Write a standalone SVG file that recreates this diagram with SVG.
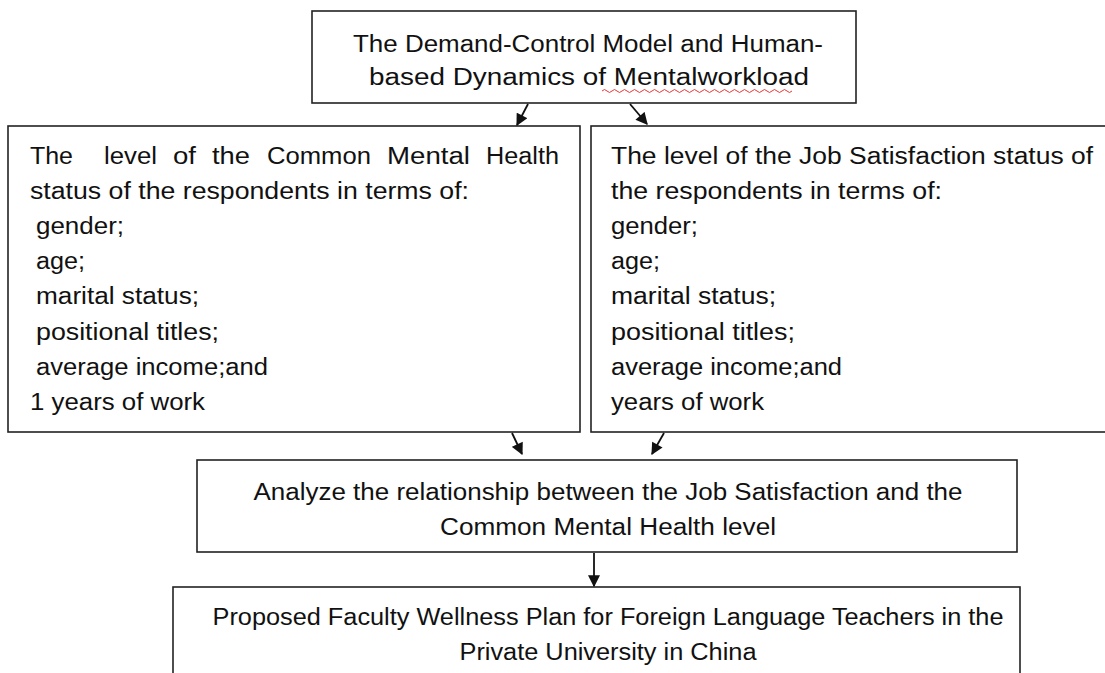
<svg xmlns="http://www.w3.org/2000/svg" width="1105" height="673" viewBox="0 0 1105 673">
<style>
.box{fill:#fff;stroke:#222;stroke-width:1.6}
.t{font-family:"Liberation Sans",Arial,sans-serif;font-size:23px;fill:#111}
.c{text-anchor:middle}
.conn line{stroke:#111;stroke-width:1.8}
</style>
<defs>
<marker id="ah" viewBox="0 0 10 10" refX="9" refY="5" markerWidth="13" markerHeight="12" orient="auto" markerUnits="userSpaceOnUse">
<path d="M0,0 L10,5 L0,10 z" fill="#111"/>
</marker>
</defs>
<rect width="1105" height="673" fill="#fff"/>
<g id="top">
<rect class="box" x="312" y="11" width="544" height="92"/>
<text class="t c" x="588" y="52" textLength="470" lengthAdjust="spacingAndGlyphs">The Demand-Control Model and Human-</text>
<text class="t c" x="589" y="85" textLength="440" lengthAdjust="spacingAndGlyphs">based Dynamics of Mentalworkload</text>
<path d="M602,91 q2.5,-3 5,0 t5,0 t5,0 t5,0 t5,0 t5,0 t5,0 t5,0 t5,0 t5,0 t5,0 t5,0 t5,0 t5,0 t5,0 t5,0 t5,0 t5,0 t5,0 t5,0 t5,0 t5,0 t5,0 t5,0 t5,0 t5,0 t5,0 t5,0 t5,0 t5,0 t5,0 t5,0 t5,0 t5,0 t5,0 t5,0 t5,0 t5,0" fill="none" stroke="#e33" stroke-width="1"/>
</g>
<g id="left">
<rect class="box" x="8" y="126" width="572" height="306"/>
<text class="t" x="30" y="164" textLength="43" lengthAdjust="spacingAndGlyphs">The</text>
<text class="t" x="104" y="164" textLength="53" lengthAdjust="spacingAndGlyphs">level</text>
<text class="t" x="173" y="164" textLength="23" lengthAdjust="spacingAndGlyphs">of</text>
<text class="t" x="212" y="164" textLength="38" lengthAdjust="spacingAndGlyphs">the</text>
<text class="t" x="267" y="164" textLength="104" lengthAdjust="spacingAndGlyphs">Common</text>
<text class="t" x="387" y="164" textLength="83" lengthAdjust="spacingAndGlyphs">Mental</text>
<text class="t" x="486" y="164" textLength="73" lengthAdjust="spacingAndGlyphs">Health</text>
<text class="t" x="30" y="199" textLength="439" lengthAdjust="spacingAndGlyphs">status of the respondents  in terms of:</text>
<text class="t" x="36" y="234" textLength="88" lengthAdjust="spacingAndGlyphs">gender;</text>
<text class="t" x="36" y="269" textLength="49" lengthAdjust="spacingAndGlyphs">age;</text>
<text class="t" x="36" y="304" textLength="163" lengthAdjust="spacingAndGlyphs">marital status;</text>
<text class="t" x="36" y="340" textLength="183" lengthAdjust="spacingAndGlyphs">positional titles;</text>
<text class="t" x="36" y="375" textLength="232" lengthAdjust="spacingAndGlyphs">average income;and</text>
<text class="t" x="30" y="410" textLength="175" lengthAdjust="spacingAndGlyphs">1 years of work</text>
</g>
<g id="right">
<rect class="box" x="591" y="126" width="520" height="306"/>
<text class="t" x="611" y="164" textLength="482" lengthAdjust="spacingAndGlyphs">The  level of the Job Satisfaction status of</text>
<text class="t" x="611" y="199" textLength="331" lengthAdjust="spacingAndGlyphs">the respondents  in terms of:</text>
<text class="t" x="611" y="234" textLength="87" lengthAdjust="spacingAndGlyphs">gender;</text>
<text class="t" x="611" y="269" textLength="49" lengthAdjust="spacingAndGlyphs">age;</text>
<text class="t" x="611" y="304" textLength="165" lengthAdjust="spacingAndGlyphs">marital status;</text>
<text class="t" x="611" y="340" textLength="184" lengthAdjust="spacingAndGlyphs">positional titles;</text>
<text class="t" x="611" y="375" textLength="231" lengthAdjust="spacingAndGlyphs">average income;and</text>
<text class="t" x="611" y="410" textLength="153" lengthAdjust="spacingAndGlyphs">years of work</text>
</g>
<g id="middle">
<rect class="box" x="197" y="460" width="820" height="92"/>
<text class="t c" x="608" y="500" textLength="709" lengthAdjust="spacingAndGlyphs">Analyze the relationship between the Job Satisfaction and the</text>
<text class="t c" x="608" y="535" textLength="336" lengthAdjust="spacingAndGlyphs">Common Mental Health level</text>
</g>
<g id="bottom">
<rect class="box" x="173" y="587" width="847" height="100"/>
<text class="t c" x="608" y="625" textLength="791" lengthAdjust="spacingAndGlyphs">Proposed Faculty Wellness Plan for Foreign Language Teachers in the</text>
<text class="t c" x="608" y="660" textLength="297" lengthAdjust="spacingAndGlyphs">Private University in China</text>
</g>
<g id="connectors" class="conn">
<line x1="528" y1="104" x2="517" y2="125" marker-end="url(#ah)"/>
<line x1="630" y1="104" x2="647" y2="124" marker-end="url(#ah)"/>
<line x1="512" y1="433" x2="522" y2="454" marker-end="url(#ah)"/>
<line x1="664" y1="433" x2="652" y2="454" marker-end="url(#ah)"/>
<line x1="594" y1="553" x2="594" y2="586" marker-end="url(#ah)"/>
</g>
</svg>
